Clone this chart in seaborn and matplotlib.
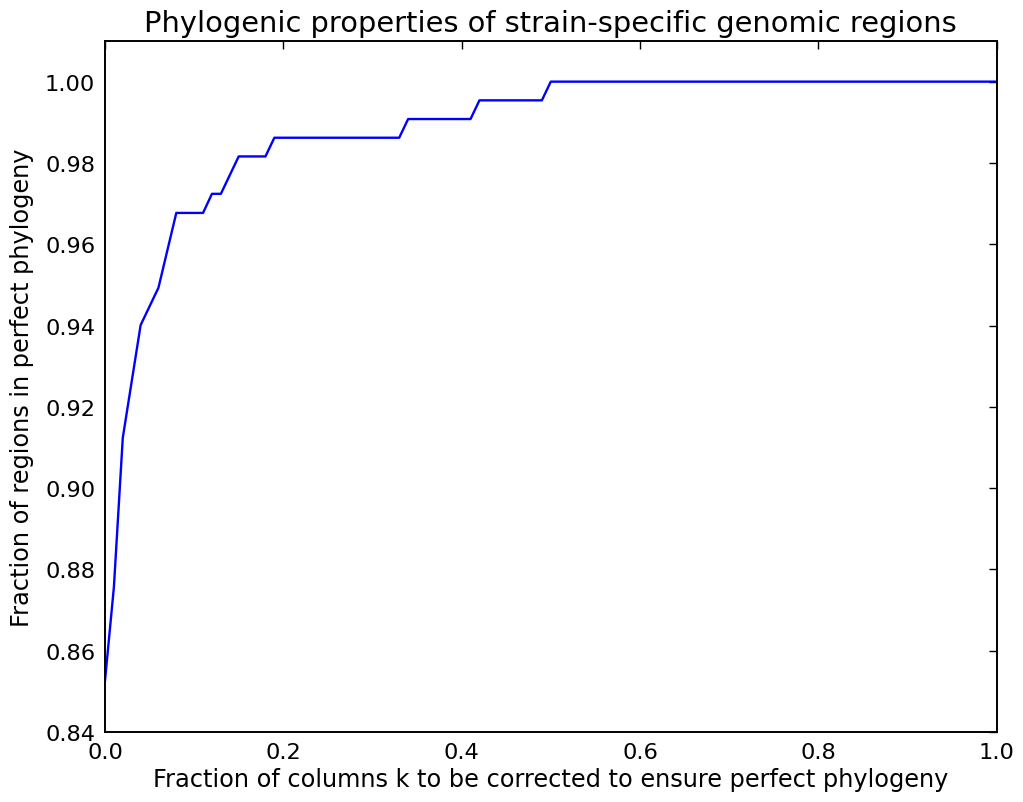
import numpy as np
import pandas as pd
import matplotlib
matplotlib.use("Agg")
import matplotlib.pyplot as plt
import seaborn as sns

# --- DATA ---
frac_cols = [0.0, 0.01, 0.02, 0.04, 0.06, 0.08, 0.11, 0.12, 0.13, 0.15,
             0.18, 0.19, 0.33, 0.34, 0.41, 0.42, 0.49, 0.50, 1.0]
frac_regions = [0.8525, 0.8756, 0.9124, 0.9401, 0.9493, 0.9677, 0.9677, 0.9724,
                0.9724, 0.9816, 0.9816, 0.9862, 0.9862, 0.9908, 0.9908, 0.9954,
                0.9954, 1.0, 1.0]
df = pd.DataFrame({"k": frac_cols, "frac": frac_regions})

# --- STYLE ---
sns.set_style("white")
plt.rcParams['font.family'] = ['DejaVu Sans']
plt.rcParams.update({
    'xtick.direction': 'in', 'ytick.direction': 'in',
    'xtick.top': True, 'ytick.right': True,
    'xtick.major.size': 6, 'ytick.major.size': 6,
    'xtick.major.width': 1.0, 'ytick.major.width': 1.0,
    'axes.linewidth': 1.4, 'axes.edgecolor': 'black',
    'text.color': 'black', 'axes.labelcolor': 'black',
    'xtick.color': 'black', 'ytick.color': 'black',
})

fig = plt.figure(figsize=(10.23, 8.03), dpi=100)
ax = fig.add_axes([0.1026, 0.0872, 0.8716, 0.8605])
sns.lineplot(data=df, x="k", y="frac", color="#0000ff", lw=1.7, ax=ax)

ax.set_xlim(0, 1.0)
ax.set_ylim(0.84, 1.01)
ax.set_xticks(np.arange(0, 1.01, 0.2))
ax.set_yticks(np.arange(0.84, 1.001, 0.02))
ax.xaxis.set_major_formatter(matplotlib.ticker.FormatStrFormatter('%.1f'))
ax.yaxis.set_major_formatter(matplotlib.ticker.FormatStrFormatter('%.2f'))
ax.tick_params(labelsize=16.2, pad=7)
ax.set_xlabel("Fraction of columns k to be corrected to ensure perfect phylogeny", fontsize=17.3)
ax.set_ylabel("Fraction of regions in perfect phylogeny", fontsize=17.3, labelpad=8)
ax.set_title("Phylogenic properties of strain-specific genomic regions", fontsize=20.8, pad=7)

fig.savefig("out.png", dpi=100)
